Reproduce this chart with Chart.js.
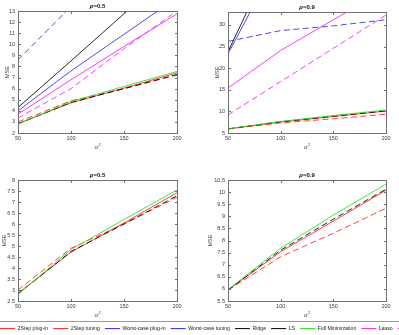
<!DOCTYPE html>
<html>
<head>
<meta charset="utf-8">
<title>MSE vs sigma^2</title>
<script src="https://cdn.jsdelivr.net/npm/chart.js@4.4.1/dist/chart.umd.min.js"></script>
<style>
    html, body { margin: 0; padding: 0; background: #fff; }
    body { position: relative; width: 399px; height: 335px; overflow: hidden; }
    canvas { position: absolute; }
</style>
</head>
<body>
<canvas id="chart-tl" width="200" height="160" style="left:0;top:0"></canvas>
<canvas id="chart-tr" width="199" height="160" style="left:200px;top:0"></canvas>
<canvas id="chart-bl" width="200" height="160" style="left:0;top:165px"></canvas>
<canvas id="chart-br" width="199" height="160" style="left:200px;top:165px"></canvas>
<canvas id="chart-legend" width="520" height="40" style="left:-5px;top:321px"></canvas>
<script>
// x axis: noise variance
const sigma2 = [50, 100, 150, 200];

const seriesNames = ['2Step plug-in', '2Step tuning', 'Worst-case plug-in', 'Worst-case tuning',
    'Ridge', 'LS', 'Full Minimization', 'Lasso', 'Lasso plug-in'];

// rho = 0.5
const twoStepPlugin05 = [3.0, 4.9, 6.0, 7.22];
const twoStepTuning05 = [2.85, 4.72, 6.05, 7.42];
const worstPlugin05 = [8.6, 13.4, 18.2, 23.0];
const worstTuning05 = [4.0, 7.6, 10.9, 14.2];
const ridge05 = [2.82, 4.75, 6.0, 7.28];
const ls05 = [4.3, 8.5, 12.75, 17.0];
const fullMin05 = [2.8, 4.84, 6.2, 7.55];
const lasso05 = [3.7, 6.8, 9.8, 12.75];
const lassoPlugin05 = [3.35, 6.0, 9.6, 13.0];

// rho = 0.9
const twoStepPlugin09 = [5.95, 7.33, 8.3, 9.33];
const twoStepTuning09 = [5.95, 7.54, 8.8, 10.08];
const worstPlugin09 = [26.2, 28.7, 29.8, 31.2];
const worstTuning09 = [23.3, 46.3, 69, 92];
const ridge09 = [5.95, 7.6, 8.88, 10.12];
const ls09 = [23.8, 49.5, 75, 100];
const fullMin09 = [5.97, 7.68, 9.05, 10.33];
const lasso09 = [15.4, 24.1, 31.2, 38.3];
const lassoPlugin09 = [9.2, 16.9, 24.6, 32.3];

const fontFamily = "'Liberation Sans', Arial, Helvetica, sans-serif";
const axisColor = '#707070';
const textColor = '#3a3a3a';
const DASH = [6, 3.5];

// matlab-ish line specs, same order as seriesNames
const lineSpecs = [
    { color: '#ff2020', dashed: true },
    { color: '#ff2020', dashed: false },
    { color: '#2a2af0', dashed: true },
    { color: '#2a2af0', dashed: false },
    { color: '#000000', dashed: true },
    { color: '#000000', dashed: false },
    { color: '#22e022', dashed: false },
    { color: '#f020f0', dashed: false },
    { color: '#f020f0', dashed: true }
];

Chart.defaults.font.family = fontFamily;

function lineDataset(idx, values, forLegend) {
    const spec = lineSpecs[idx];
    return {
        label: seriesNames[idx],
        data: values ? sigma2.map((x, i) => ({ x: x, y: values[i] })) : [],
        borderColor: spec.color,
        backgroundColor: spec.color,
        borderWidth: forLegend ? 1 : 0.85,
        borderDash: spec.dashed ? DASH : [],
        pointRadius: 0,
        tension: 0,
        fill: false,
        // later series drawn on top, like matlab (legend keeps natural order)
        order: forLegend ? 0 : 20 - idx
    };
}

// box, inner ticks, title and axis labels
const framePlugin = {
    id: 'matlabFrame',
    afterDraw(chart, args, opts) {
        const ctx = chart.ctx;
        const a = chart.chartArea;
        const xs = chart.scales.x, ys = chart.scales.y;
        ctx.save();
        ctx.strokeStyle = axisColor;
        ctx.lineWidth = 1;
        ctx.strokeRect(a.left + 0.5, a.top + 0.5, a.right - a.left, a.bottom - a.top);
        ctx.beginPath();
        xs.ticks.forEach(t => {
            const px = Math.round(xs.getPixelForValue(t.value)) + 0.5;
            ctx.moveTo(px, a.bottom); ctx.lineTo(px, a.bottom - 2);
            ctx.moveTo(px, a.top + 1); ctx.lineTo(px, a.top + 3);
        });
        ys.ticks.forEach(t => {
            const py = Math.round(ys.getPixelForValue(t.value)) + 0.5;
            ctx.moveTo(a.left + 1, py); ctx.lineTo(a.left + 3, py);
            ctx.moveTo(a.right, py); ctx.lineTo(a.right - 2, py);
        });
        ctx.stroke();

        const cx = (a.left + a.right) / 2;
        ctx.textBaseline = 'middle';
        ctx.textAlign = 'left';

        // title: italic rho + value
        ctx.fillStyle = '#111';
        ctx.font = `italic bold 6px ${fontFamily}`;
        const rhoW = ctx.measureText('ρ').width;
        ctx.font = `bold 6px ${fontFamily}`;
        const rest = '=' + opts.rho;
        const restW = ctx.measureText(rest).width;
        const tx = cx - (rhoW + restW) / 2;
        ctx.font = `italic bold 6px ${fontFamily}`;
        ctx.fillText('ρ', tx, a.top - 4.3);
        ctx.font = `bold 6px ${fontFamily}`;
        ctx.fillText(rest, tx + rhoW, a.top - 4.3);

        // x label sigma^2
        ctx.fillStyle = textColor;
        ctx.font = `italic 6px ${fontFamily}`;
        const sW = ctx.measureText('σ').width;
        ctx.fillText('σ', cx - 3, a.bottom + 14);
        ctx.font = `4px ${fontFamily}`;
        ctx.fillText('2', cx - 3 + sW + 0.4, a.bottom + 11.5);

        // y label
        ctx.translate(a.left - opts.yTitleOffset, (a.top + a.bottom) / 2);
        ctx.rotate(-Math.PI / 2);
        ctx.textAlign = 'center';
        ctx.font = `5.5px ${fontFamily}`;
        ctx.fillText('MSE', 0, 0);
        ctx.restore();
    }
};

function makePanel(canvasId, cfg) {
    const ctx = document.getElementById(canvasId).getContext('2d');
    return new Chart(ctx, {
        type: 'line',
        data: { datasets: cfg.datasets },
        options: {
            responsive: false,
            animation: false,
            events: [],
            layout: { padding: cfg.padding },
            scales: {
                x: {
                    type: 'linear',
                    min: 50, max: 200,
                    grid: { display: false, drawTicks: false },
                    border: { display: false },
                    ticks: { stepSize: 50, padding: 2, color: textColor, font: { size: 5.5 } },
                    afterFit: s => { s.height = cfg.xHeight; }
                },
                y: {
                    type: 'linear',
                    min: cfg.yMin, max: cfg.yMax,
                    grid: { display: false, drawTicks: false },
                    border: { display: false },
                    ticks: {
                        stepSize: cfg.yStep,
                        includeBounds: false,
                        padding: 3,
                        color: textColor,
                        font: { size: 5.5 },
                        callback: v => String(+v.toFixed(2))
                    },
                    afterFit: s => { s.width = cfg.yWidth; }
                }
            },
            plugins: {
                legend: { display: false },
                tooltip: { enabled: false },
                matlabFrame: { rho: cfg.rho, yTitleOffset: cfg.yTitleOffset }
            }
        },
        plugins: [framePlugin]
    });
}

const allSeries05 = [twoStepPlugin05, twoStepTuning05, worstPlugin05, worstTuning05,
    ridge05, ls05, fullMin05, lasso05, lassoPlugin05];
const allSeries09 = [twoStepPlugin09, twoStepTuning09, worstPlugin09, worstTuning09,
    ridge09, ls09, fullMin09, lasso09, lassoPlugin09];
// bottom row only zooms in on the close ones
const zoomIdx = [0, 1, 4, 6];

makePanel('chart-tl', {
    rho: '0.5', yMin: 2, yMax: 13, yStep: 1,
    datasets: allSeries05.map((v, i) => lineDataset(i, v)),
    padding: { left: 0, right: 23, top: 11, bottom: 0 },
    yWidth: 18, xHeight: 27, yTitleOffset: 11
});
makePanel('chart-tr', {
    rho: '0.9', yMin: 5, yMax: 33, yStep: 5,
    datasets: allSeries09.map((v, i) => lineDataset(i, v)),
    padding: { left: 0, right: 13, top: 12, bottom: 0 },
    yWidth: 28, xHeight: 27, yTitleOffset: 11
});
makePanel('chart-bl', {
    rho: '0.5', yMin: 2.5, yMax: 8, yStep: 0.5,
    datasets: zoomIdx.map(i => lineDataset(i, allSeries05[i])),
    padding: { left: 0, right: 23, top: 15, bottom: 0 },
    yWidth: 18, xHeight: 24, yTitleOffset: 13.5
});
makePanel('chart-br', {
    rho: '0.9', yMin: 5.5, yMax: 10.5, yStep: 0.5,
    datasets: zoomIdx.map(i => lineDataset(i, allSeries09[i])),
    padding: { left: 0, right: 13, top: 15, bottom: 0 },
    yWidth: 28, xHeight: 24, yTitleOffset: 18
});

// shared legend along the bottom, boxed like matlab's
const legendBorder = {
    id: 'legendBorder',
    afterDraw(chart) {
        const lg = chart.legend;
        const ctx = chart.ctx;
        ctx.save();
        ctx.strokeStyle = '#9a9a9a';
        ctx.lineWidth = 1;
        ctx.strokeRect(lg.left + 0.5, lg.top + 0.5, lg.width - 1, lg.height + 10);
        ctx.restore();
    }
};

new Chart(document.getElementById('chart-legend').getContext('2d'), {
    type: 'line',
    data: { datasets: seriesNames.map((n, i) => lineDataset(i, null, true)) },
    options: {
        responsive: false,
        animation: false,
        events: [],
        scales: { x: { display: false }, y: { display: false } },
        plugins: {
            tooltip: { enabled: false },
            legend: {
                position: 'top',
                align: 'start',
                labels: {
                    usePointStyle: true,
                    pointStyle: 'line',
                    pointStyleWidth: 15,
                    boxHeight: 5,
                    padding: 5,
                    color: '#222',
                    font: { size: 5.2 }
                }
            }
        }
    },
    plugins: [legendBorder]
});
</script>
</body>
</html>
